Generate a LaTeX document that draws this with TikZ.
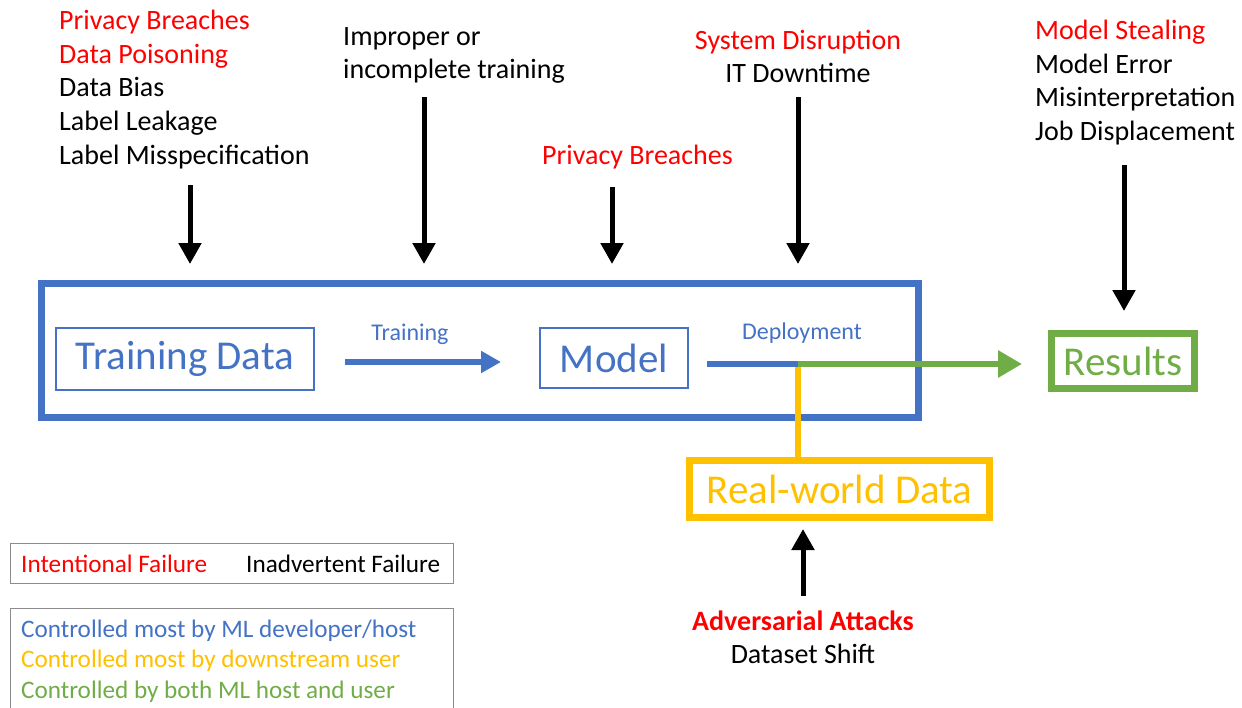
\documentclass[tikz,border=0pt]{standalone}
\usepackage{fontspec}
\setmainfont{Carlito}
\usetikzlibrary{arrows.meta}
\definecolor{mlblue}{HTML}{4472C4}
\definecolor{mlyellow}{HTML}{FFC000}
\definecolor{mlgreen}{HTML}{70AD47}
\definecolor{mlred}{HTML}{FF0000}
\definecolor{lgray}{HTML}{8C8C8C}
\tikzset{
  lbl/.style={font=\fontsize{28}{33.7}\selectfont, inner sep=0pt},
  bigtxt/.style={font=\fontsize{41}{49}\selectfont},
  smtxt/.style={font=\fontsize{24}{29}\selectfont, inner sep=0pt},
  legtxt/.style={font=\fontsize{25.2}{30}\selectfont, inner sep=0pt},
  intent/.style={text=mlred},
  failarrow/.style={-{Triangle[length=21pt,width=22pt]}, line width=5pt, black},
  thinbox/.style={draw=mlblue, line width=2pt, text=mlblue, bigtxt, inner sep=0pt},
  thickbox/.style={line width=7pt, bigtxt, inner sep=0pt},
}
\begin{document}
\begin{tikzpicture}[x=1pt,y=-1pt]
\useasboundingbox (0,0) rectangle (1242,707);

% top-left list
\node[lbl,intent,anchor=base west] (pb1) at (59,29) {Privacy Breaches};
\node[lbl,intent,anchor=base west] (dp) at (59,63) {Data Poisoning};
\node[lbl,anchor=base west] (db) at (59,96) {Data Bias};
\node[lbl,anchor=base west] (ll) at (59,130) {Label Leakage};
\node[lbl,anchor=base west] (lm) at (59,164) {Label Misspecification};

% improper training
\node[lbl,anchor=base west] (imp1) at (343,45) {Improper or};
\node[lbl,anchor=base west] (imp2) at (343,78) {incomplete training};

% middle privacy
\node[lbl,intent,anchor=base west] (pb2) at (542,164) {Privacy Breaches};

% system disruption
\node[lbl,intent,anchor=base] (sd) at (798,49) {System Disruption};
\node[lbl,anchor=base] (itd) at (798,82) {IT Downtime};

% right list
\node[lbl,intent,anchor=base west] (ms) at (1035,39) {Model Stealing};
\node[lbl,anchor=base west] (me) at (1035,73) {Model Error};
\node[lbl,anchor=base west] (mi) at (1035,106) {Misinterpretation};
\node[lbl,anchor=base west] (jd) at (1035,140) {Job Displacement};

% big developer box
\draw[mlblue, line width=7pt] (41.5,283.5) rectangle (918.5,417.5);

% inner nodes
\node[thinbox, minimum width=258pt, minimum height=62pt] (td) at (185,359) {Training Data};
\node[thinbox, minimum width=148pt, minimum height=60pt] (mod) at (614,358) {Model};
\node[thickbox, draw=mlyellow, text=mlyellow, minimum width=300pt, minimum height=57pt] (rw) at (839.5,489) {Real-world Data};
\node[thickbox, draw=mlgreen, text=mlgreen, minimum width=143pt, minimum height=55pt] (res) at (1123,361) {Results};

% training arrow
\coordinate (trs) at ([yshift=-3pt]td.east);
\draw[mlblue, line width=6.5pt, -{Triangle[length=20pt,width=21pt]}, shorten <=30pt, shorten >=38pt] (trs) -- (trs -| mod.west);
\node[smtxt, text=mlblue, anchor=base] (trl) at (410,340) {Training};

% deployment
\node[smtxt, text=mlblue, anchor=base] (dpl) at (802,339) {Deployment};
\coordinate (dstart) at (707,364);
\coordinate (junc) at (798,364);
\draw[mlyellow, line width=6pt] (junc) -- (junc |- rw.north);
\draw[mlblue, line width=6pt] (dstart) -- (junc);
\draw[mlgreen, line width=6pt, -{Triangle[length=24pt,width=26pt]}, shorten >=26pt] (junc) -- (junc -| res.west);

% failure arrows
\coordinate (a1s) at (190,185); \coordinate (a1e) at (190,264);
\coordinate (a2s) at (424,97);  \coordinate (a2e) at (424,264);
\coordinate (a3s) at (612,187); \coordinate (a3e) at (612,264);
\coordinate (a4s) at (798,97);  \coordinate (a4e) at (798,264);
\coordinate (a5s) at (1124,165); \coordinate (a5e) at (1124,311);
\coordinate (a6s) at (803,596); \coordinate (a6e) at (803,529);
\draw[failarrow] (a1s) -- (a1e);
\draw[failarrow] (a2s) -- (a2e);
\draw[failarrow] (a3s) -- (a3e);
\draw[failarrow] (a4s) -- (a4e);
\draw[failarrow] (a5s) -- (a5e);
\draw[failarrow] (a6s) -- (a6e);

% adversarial
\node[lbl,intent,anchor=base,font=\fontsize{28}{33.7}\selectfont\bfseries] (adv) at (803,630) {Adversarial Attacks};
\node[lbl,anchor=base] (dss) at (803,663) {Dataset Shift};

% legends
\draw[lgray, line width=1pt] (10.5,543.5) rectangle (453.5,583.5);
\node[legtxt,intent,anchor=base west] (lif) at (21,572) {Intentional Failure};
\node[legtxt,anchor=base west] (lia) at (246,572) {Inadvertent Failure};
\draw[lgray, line width=1pt] (10.5,608.5) rectangle (453.5,712);
\node[legtxt,text=mlblue,anchor=base west] (lc1) at (21,637) {Controlled most by ML developer/host};
\node[legtxt,text=mlyellow,anchor=base west] (lc2) at (21,667) {Controlled most by downstream user};
\node[legtxt,text=mlgreen,anchor=base west] (lc3) at (21,698) {Controlled by both ML host and user};
\end{tikzpicture}
\end{document}
